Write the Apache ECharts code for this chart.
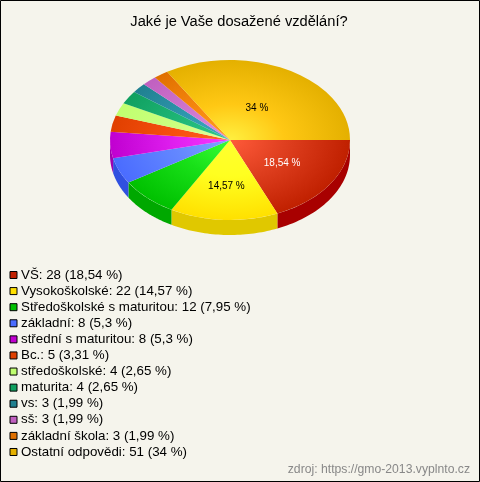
<!DOCTYPE html>
<html><head><meta charset="utf-8">
<style>html,body{margin:0;padding:0;background:#f5f4ec}#c{width:480px;height:482px}</style>
<script src="https://cdn.jsdelivr.net/npm/echarts@6/dist/echarts.min.js"></script>
</head><body><div id="c"></div>
<script>
const titleText = 'Jaké je Vaše dosažené vzdělání?';
const sourceText = 'zdroj: https://gmo-2013.vyplnto.cz';
const categories = ['VŠ','Vysokoškolské','Středoškolské s maturitou','základní','střední s maturitou','Bc.','středoškolské','maturita','vs','sš','základní škola','Ostatní odpovědi'];
const values = [28,22,12,8,8,5,4,4,3,3,3,51];
const percents = ['18,54','14,57','7,95','5,3','5,3','3,31','2,65','2,65','1,99','1,99','1,99','34'];
const sliceLabels = ['18,54 %','14,57 %','','','','','','','','','','34 %'];
const edgeColors = ['#c02000','#ffe000','#00c000','#4a6cff','#c000d0','#e04000','#c0ff70','#10a060','#208090','#c060c0','#e07000','#e4b000'];
const midColors = ['#e04020','#ffff20','#18e018','#6488ff','#e020f0','#f85010','#ccff80','#20b878','#3098b0','#d078d0','#f88810','#ffc814'];
const coreColors = ['#ff5a3a','#ffff30','#38ff38','#80a4ff','#f838ff','#ff6424','#e4ffa0','#30c888','#40a8c8','#e090e0','#ffa020','#fff040'];
const wallColors = ['#a80000','#e0c800','#00a800','#3050e0','#a000b0','#c03000','#a0e050','#008040','#106070','#a040a0','#c05000','#c09000'];
const labelColors = ['#fff','#000','#000','#000','#000','#000','#000','#000','#000','#000','#000','#000'];
const labelRadius = {0:0.52,1:0.575,11:0.46};

const CX = 230, CY = 140, RX = 120, RY = 80, DEPTH = 15;
const FONT = '"Liberation Sans",Arial,sans-serif';
const total = values.reduce((a,b)=>a+b,0);
const starts = []; values.reduce((s,v,i)=>{starts[i]=s; return s+v/total*Math.PI*2;},0);

function renderSlice(i){
  return function(){
    const a0 = starts[i], a1 = a0 + values[i]/total*Math.PI*2;
    const children = [];
    const wa0 = a0, wa1 = Math.min(a1, Math.PI);
    if (wa0 < Math.PI){
      const pts = [], n = 40;
      for(let k=0;k<=n;k++){const a=wa0+(wa1-wa0)*k/n; pts.push([CX+RX*Math.cos(a),CY+RY*Math.sin(a)]);}
      for(let k=n;k>=0;k--){const a=wa0+(wa1-wa0)*k/n; pts.push([CX+RX*Math.cos(a),CY+DEPTH+RY*Math.sin(a)]);}
      children.push({type:'polygon',shape:{points:pts},style:{fill:wallColors[i]}});
    }
    children.push({type:'sector',
      x:CX,y:CY,scaleY:RY/RX,
      shape:{cx:0,cy:0,r:RX,r0:0,startAngle:a0,endAngle:a1,clockwise:true},
      style:{fill:new echarts.graphic.RadialGradient(0,0,RX,[{offset:0,color:coreColors[i]},{offset:0.45,color:midColors[i]},{offset:1,color:edgeColors[i]}],true)}});
    if (sliceLabels[i]){
      const m=(a0+a1)/2, r = labelRadius[i];
      children.push({type:'text',x:CX+RX*r*Math.cos(m),y:CY+RY*r*Math.sin(m),
        style:{text:sliceLabels[i],fill:labelColors[i],font:'10px '+FONT,align:'center',verticalAlign:'middle'}});
    }
    return {type:'group',children};
  };
}

const series = categories.map((name,i)=>({
  type:'custom',name,coordinateSystem:'none',silent:true,animation:false,
  data:[[values[i]]],renderItem:renderSlice(i),color:edgeColors[i]
}));

const chart = echarts.init(document.getElementById('c'),null,{renderer:'canvas'});
chart.setOption({
  backgroundColor:'#f5f4ec',animation:false,
  title:{text:titleText,left:234,top:9,textAlign:'center',textStyle:{fontFamily:FONT,fontSize:14.67,fontWeight:'normal',color:'#000',lineHeight:16}},
  legend:{orient:'vertical',left:9.5,top:268,height:200,padding:0,itemGap:2.09,itemWidth:7,itemHeight:7,
    selectedMode:false,
    data:categories.map((name,i)=>({name,icon:'rect',itemStyle:{color:edgeColors[i],borderColor:'#000',borderWidth:1}})),
    formatter:n=>{const i=categories.indexOf(n);return `${n}: ${values[i]} (${percents[i]} %)`;},
    textStyle:{fontFamily:FONT,fontSize:13.33,color:'#000',lineHeight:14,padding:[0,0,0,-1]}},
  graphic:[
    {type:'rect',silent:true,z:100,shape:{x:.5,y:.5,width:479,height:481},style:{fill:'none',stroke:'#000',lineWidth:1}},
    {type:'text',silent:true,right:10,top:464,style:{text:sourceText,fill:'#888',font:'12.2px '+FONT}}
  ],
  series
});
</script></body></html>
